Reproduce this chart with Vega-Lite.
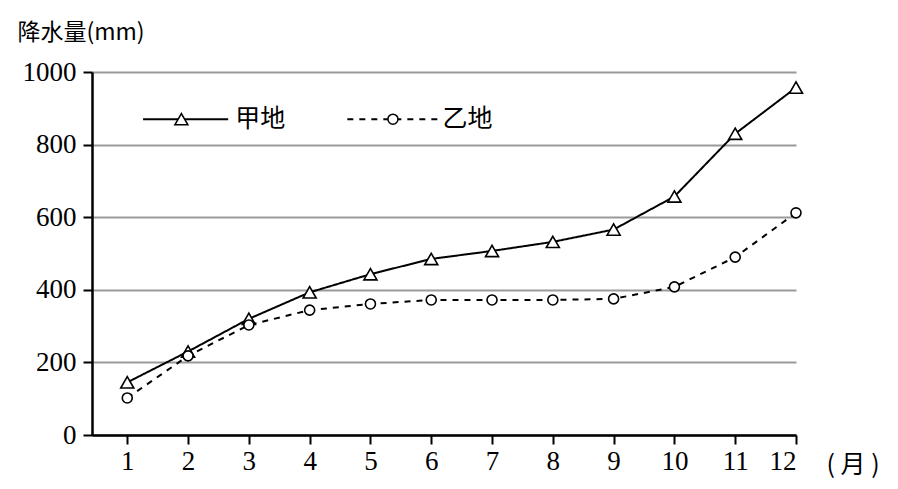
{
  "$schema": "https://vega.github.io/schema/vega-lite/v6.json",
  "width": 704,
  "height": 363,
  "autosize": "none",
  "padding": {"left": 92, "top": 72, "right": 102, "bottom": 54},
  "background": "white",
  "config": {"view": {"stroke": null}},
  "datasets": {
    "rain": [
      {"month": 1, "site": "甲地", "mm": 145},
      {"month": 2, "site": "甲地", "mm": 230},
      {"month": 3, "site": "甲地", "mm": 320},
      {"month": 4, "site": "甲地", "mm": 393},
      {"month": 5, "site": "甲地", "mm": 443},
      {"month": 6, "site": "甲地", "mm": 485},
      {"month": 7, "site": "甲地", "mm": 507},
      {"month": 8, "site": "甲地", "mm": 532},
      {"month": 9, "site": "甲地", "mm": 566},
      {"month": 10, "site": "甲地", "mm": 657},
      {"month": 11, "site": "甲地", "mm": 830},
      {"month": 12, "site": "甲地", "mm": 957},
      {"month": 1, "site": "乙地", "mm": 102},
      {"month": 2, "site": "乙地", "mm": 218},
      {"month": 3, "site": "乙地", "mm": 303},
      {"month": 4, "site": "乙地", "mm": 344},
      {"month": 5, "site": "乙地", "mm": 361},
      {"month": 6, "site": "乙地", "mm": 372},
      {"month": 7, "site": "乙地", "mm": 372},
      {"month": 8, "site": "乙地", "mm": 372},
      {"month": 9, "site": "乙地", "mm": 375},
      {"month": 10, "site": "乙地", "mm": 408},
      {"month": 11, "site": "乙地", "mm": 490},
      {"month": 12, "site": "乙地", "mm": 612}
    ],
    "legend": [
      {"site": "甲地", "x1": 1.26, "x2": 2.66, "xm": 1.89, "xt": 2.76, "y": 870},
      {"site": "乙地", "x1": 4.62, "x2": 6.15, "xm": 5.37, "xt": 6.17, "y": 870}
    ]
  },
  "layer": [
    {
      "data": {"name": "rain"},
      "mark": {"type": "line", "color": "black", "strokeWidth": 2},
      "encoding": {
        "x": {
          "field": "month", "type": "quantitative",
          "scale": {"domain": [0.42, 12], "nice": false, "zero": false},
          "axis": {
            "values": [1,2,3,4,5,6,7,8,9,10,11,12],
            "format": "d",
            "grid": false,
            "domainColor": "black", "domainWidth": 2.5,
            "tickColor": "black", "tickWidth": 2, "tickSize": 9,
            "labelFont": "Liberation Serif", "labelFontSize": 27, "labelColor": "black",
            "labelPadding": 4,
            "title": "( 月 )",
            "titleFont": "Noto Sans CJK SC", "titleFontSize": 25, "titleFontWeight": "normal",
            "titleColor": "black",
            "titleX": 734, "titleY": 29, "titleAlign": "left", "titleBaseline": "middle"
          }
        },
        "y": {
          "field": "mm", "type": "quantitative",
          "scale": {"domain": [0, 1000], "nice": false},
          "axis": {
            "values": [0, 200, 400, 600, 800, 1000],
            "format": "d",
            "grid": true, "gridColor": "#9a9a9a", "gridWidth": 2,
            "domainColor": "black", "domainWidth": 2.5,
            "tickColor": "black", "tickWidth": 2, "tickSize": 9,
            "labelFont": "Liberation Serif", "labelFontSize": 27, "labelColor": "black",
            "labelPadding": 7,
            "title": "降水量(mm)",
            "titleFont": "Noto Sans CJK SC", "titleFontSize": 23, "titleFontWeight": "normal",
            "titleColor": "black",
            "titleAngle": 0, "titleX": -75, "titleY": -40, "titleAlign": "left", "titleBaseline": "middle"
          }
        },
        "detail": {"field": "site"},
        "strokeDash": {
          "field": "site", "type": "nominal",
          "scale": {"domain": ["甲地", "乙地"], "range": [[1, 0], [6, 6]]},
          "legend": null
        }
      }
    },
    {
      "data": {"name": "rain"},
      "mark": {"type": "point", "filled": false, "fill": "white", "stroke": "black", "strokeWidth": 1.6, "opacity": 1},
      "encoding": {
        "x": {"field": "month", "type": "quantitative"},
        "y": {"field": "mm", "type": "quantitative"},
        "shape": {
          "field": "site", "type": "nominal",
          "scale": {"domain": ["甲地", "乙地"], "range": ["triangle-up", "circle"]},
          "legend": null
        },
        "size": {
          "field": "site", "type": "nominal",
          "scale": {"domain": ["甲地", "乙地"], "range": [170, 100]},
          "legend": null
        }
      }
    },
    {
      "data": {"name": "legend"},
      "mark": {"type": "rule", "color": "black", "strokeWidth": 2},
      "encoding": {
        "x": {"field": "x1", "type": "quantitative"},
        "x2": {"field": "x2"},
        "y": {"field": "y", "type": "quantitative"},
        "strokeDash": {
          "field": "site", "type": "nominal",
          "scale": {"domain": ["甲地", "乙地"], "range": [[1, 0], [5, 6]]},
          "legend": null
        }
      }
    },
    {
      "data": {"name": "legend"},
      "mark": {"type": "point", "filled": false, "fill": "white", "stroke": "black", "strokeWidth": 1.5, "opacity": 1},
      "encoding": {
        "x": {"field": "xm", "type": "quantitative"},
        "y": {"field": "y", "type": "quantitative"},
        "shape": {
          "field": "site", "type": "nominal",
          "scale": {"domain": ["甲地", "乙地"], "range": ["triangle-up", "circle"]},
          "legend": null
        },
        "size": {
          "field": "site", "type": "nominal",
          "scale": {"domain": ["甲地", "乙地"], "range": [100, 60]},
          "legend": null
        }
      }
    },
    {
      "data": {"name": "legend"},
      "mark": {"type": "text", "align": "left", "baseline": "middle", "font": "Noto Sans CJK SC", "fontSize": 25, "color": "black", "dx": 1},
      "encoding": {
        "x": {"field": "xt", "type": "quantitative"},
        "y": {"field": "y", "type": "quantitative"},
        "text": {"field": "site"}
      }
    }
  ]
}
